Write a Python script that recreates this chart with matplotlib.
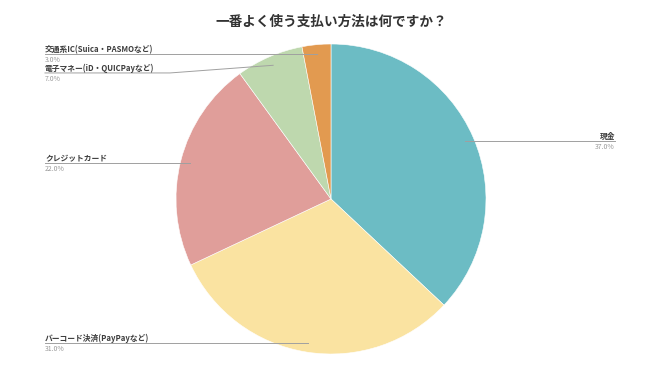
import numpy as np
import matplotlib
matplotlib.use("Agg")
import matplotlib.pyplot as plt

plt.rcParams['font.family'] = ['Noto Sans CJK JP', 'DejaVu Sans']

title = "一番よく使う支払い方法は何ですか？"
categories = ["現金", "バーコード決済(PayPayなど)", "クレジットカード",
              "電子マネー(iD・QUICPayなど)", "交通系IC(Suica・PASMOなど)"]
values = [37.0, 31.0, 22.0, 7.0, 3.0]
colors = ["#6CBCC4", "#FAE3A1", "#E09E9A", "#BED8AE", "#E29A50"]

W, H = 650, 372
fig = plt.figure(figsize=(W / 100, H / 100), dpi=100)
ax = fig.add_axes([0, 0, 1, 1])

cx, cy, R = 331, H - 199, 155
wedges, _ = ax.pie(values, colors=colors, startangle=90, counterclock=False,
                   center=(cx, cy), radius=R, frame=True,
                   wedgeprops=dict(edgecolor='white', linewidth=0.4))
ax.set_xlim(0, W)
ax.set_ylim(0, H)
ax.set_aspect('equal')
ax.axis('off')

ax.text(cx, H - 22, title, ha='center', va='center', fontsize=9.8,
        fontweight='bold', color='#333333')

label_color = '#3d3d3d'
pct_color = '#9a9a9a'
line_color = '#a0a0a0'
fs = 5.6
pfs = 5.0
left_x = 45
right_x = 615
elbow_x = 170

left_items = []
for w, cat, v in zip(wedges, categories, values):
    mid = np.deg2rad((w.theta1 + w.theta2) / 2)
    tx = cx + 0.94 * R * np.cos(mid)
    ty = cy + 0.94 * R * np.sin(mid)
    if tx > cx:
        ly = ty
        ax.plot([tx, right_x], [ly, ly], color=line_color, lw=0.7)
        ax.text(right_x, ly + 2, cat, ha='right', va='baseline', fontsize=fs,
                fontweight='bold', color=label_color)
        ax.text(right_x, ly - 2, f"{v:.1f}%", ha='right', va='top',
                fontsize=pfs, color=pct_color)
    else:
        left_items.append((ty, tx, cat, v))

# resolve overlaps on the left side (top to bottom)
left_items.sort(key=lambda t: -t[0])
prev = None
for ty, tx, cat, v in left_items:
    ly = ty
    if prev is not None and prev - ly < 19:
        ly = prev - 19
    prev = ly
    ax.plot([left_x, elbow_x, tx], [ly, ly, ty], color=line_color, lw=0.7)
    ax.text(left_x, ly + 2, cat, ha='left', va='baseline', fontsize=fs,
            fontweight='bold', color=label_color)
    ax.text(left_x, ly - 2, f"{v:.1f}%", ha='left', va='top',
            fontsize=pfs, color=pct_color)

fig.savefig("out.png", dpi=100, facecolor='white')
